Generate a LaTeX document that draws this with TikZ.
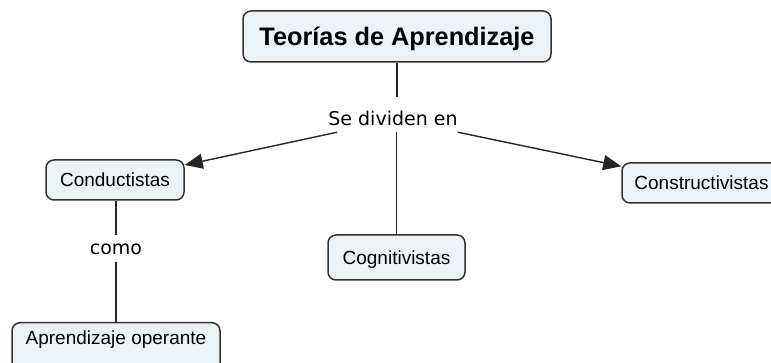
\documentclass[tikz,border=0pt]{standalone}
\usepackage{fontspec}
\setmainfont{Liberation Sans}
\newfontfamily\lblfont{DejaVu Sans}
\usetikzlibrary{arrows.meta}
\definecolor{boxfill}{RGB}{235,243,246}
\definecolor{boxline}{RGB}{50,50,50}
\begin{document}
\begin{tikzpicture}[x=1pt,y=-1pt,
  concept/.style={draw=boxline,line width=1.5pt,fill=boxfill,rounded corners=8pt,
    inner sep=0pt,align=center,font=\fontsize{19}{23}\selectfont,
    text height=13.6pt,text depth=0pt},
  linklabel/.style={font=\lblfont\fontsize{19}{23}\selectfont,inner xsep=1pt,inner ysep=3pt},
  conn/.style={draw=black!85,line width=1.4pt},
  arr/.style={conn,-{Triangle[length=18pt,width=15pt]}}]
\useasboundingbox (0,0) rectangle (771,363);
\clip (0,0) rectangle (771,363);
\node[concept,minimum width=308pt,minimum height=51pt,
      font=\bfseries\fontsize{25.3}{30}\selectfont,text height=18pt] (title) at (397,36.5) {Teorías de Aprendizaje};
\node[linklabel,anchor=base,text height=26pt,text depth=3pt] (div) at (393,126) {Se dividen en};
\node[concept,minimum width=138pt,minimum height=40pt] (cond) at (115,180) {Conductistas};
\node[concept,minimum width=137pt,minimum height=45pt] (cog) at (396.5,257.5) {Cognitivistas};
\node[concept,minimum width=159pt,minimum height=40pt] (cons) at (701.5,183) {Constructivistas};
\node[linklabel,anchor=base,text height=17pt,text depth=4pt] (como) at (116,255) {como};
\node[concept,anchor=north,minimum width=208pt,inner ysep=8pt,text depth=20pt] (apr) at (116,322) {Aprendizaje operante};
\draw[conn] (title.south) -- (title.south |- div.north);
\draw[conn] (cog.north |- div.south) -- (cog.north);
\draw[arr] ([xshift=10pt]div.south west) -- (cond);
\draw[arr] ([xshift=-1pt]div.south east) -- (cons);
\draw[conn] (como.north |- cond.south) -- (como.north);
\draw[conn] (como.south) -- (como.south |- apr.north);
\end{tikzpicture}
\end{document}
